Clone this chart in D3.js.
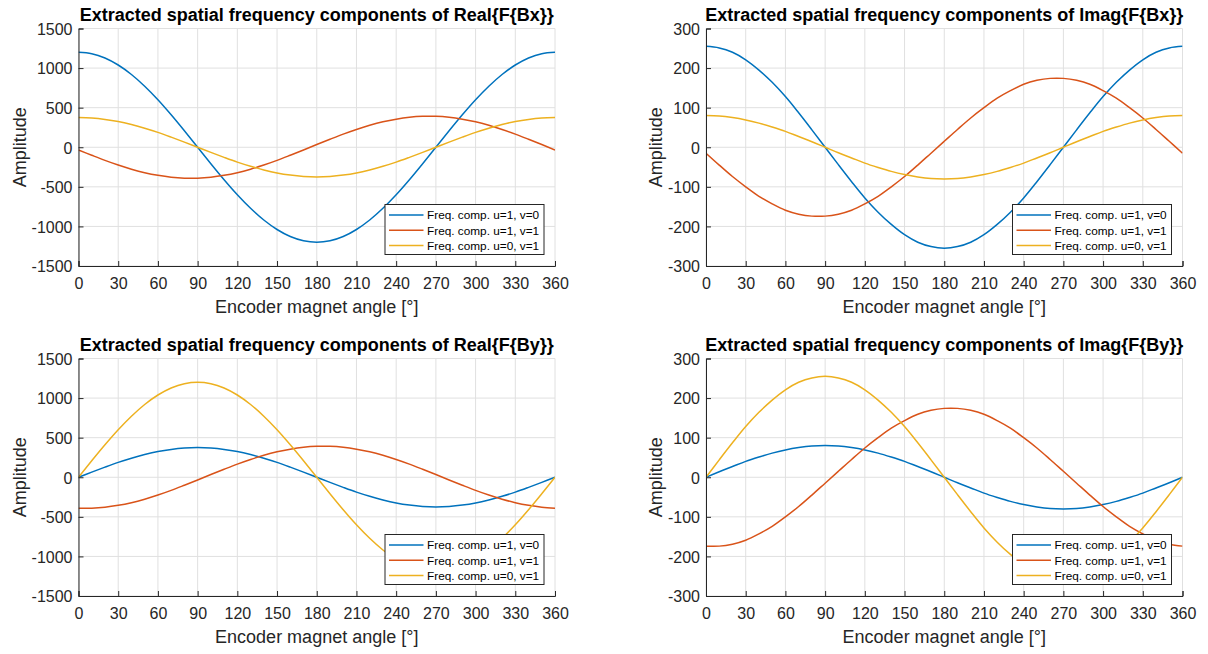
<!DOCTYPE html>
<html>
<head>
<meta charset="utf-8">
<script src="https://cdn.jsdelivr.net/npm/d3@7"></script>
<style>
  body { margin: 0; background: #ffffff; }
  svg { display: block; }
  text { font-family: "Liberation Sans", Arial, Helvetica, sans-serif; }
</style>
</head>
<body>
<svg id="chart" width="1208" height="654"></svg>
<script>
// Sample angles (degrees) of the encoder magnet
const angles = [0, 10, 20, 30, 40, 50, 60, 70, 80, 90, 100, 110, 120, 130, 140, 150, 160, 170, 180,
                190, 200, 210, 220, 230, 240, 250, 260, 270, 280, 290, 300, 310, 320, 330, 340, 350, 360];

// Axis ticks
const xTicks = [0, 30, 60, 90, 120, 150, 180, 210, 240, 270, 300, 330, 360];
const yTicksReal = [-1500, -1000, -500, 0, 500, 1000, 1500];
const yTicksImag = [-300, -200, -100, 0, 100, 200, 300];

// Legend entries and series colours
const seriesLabels = ["Freq. comp. u=1, v=0", "Freq. comp. u=1, v=1", "Freq. comp. u=0, v=1"];
const seriesColors = ["#0072BD", "#D95319", "#EDB120"];

const panelTitles = [
  "Extracted spatial frequency components of Real{F{Bx}}",
  "Extracted spatial frequency components of Imag{F{Bx}}",
  "Extracted spatial frequency components of Real{F{By}}",
  "Extracted spatial frequency components of Imag{F{By}}"
];

// Real{F{Bx}}
const realBx_u1v0 = [1200, 1182, 1128, 1039, 919, 771, 600, 410, 208, 0, -208, -410, -600, -771, -919, -1039, -1128, -1182, -1200,
                     -1182, -1128, -1039, -919, -771, -600, -410, -208, 0, 208, 410, 600, 771, 919, 1039, 1128, 1182, 1200];
const realBx_u1v1 = [-34, -101, -166, -225, -277, -321, -355, -379, -391, -391, -379, -355, -321, -277, -225, -166, -101, -34, 34,
                     101, 166, 225, 277, 321, 355, 379, 391, 391, 379, 355, 321, 277, 225, 166, 101, 34, -34];
const realBx_u0v1 = [375, 369, 352, 325, 287, 241, 188, 128, 65, 0, -65, -128, -188, -241, -287, -325, -352, -369, -375,
                     -369, -352, -325, -287, -241, -188, -128, -65, 0, 65, 128, 188, 241, 287, 325, 352, 369, 375];

// Imag{F{Bx}}
const imagBx_u1v0 = [255, 251, 240, 221, 195, 164, 128, 87, 44, 0, -44, -87, -128, -164, -195, -221, -240, -251, -255,
                     -251, -240, -221, -195, -164, -128, -87, -44, 0, 44, 87, 128, 164, 195, 221, 240, 251, 255];
const imagBx_u1v1 = [-15, -45, -74, -100, -124, -143, -159, -169, -174, -174, -169, -159, -143, -124, -100, -74, -45, -15, 15,
                     45, 74, 100, 124, 143, 159, 169, 174, 174, 169, 159, 143, 124, 100, 74, 45, 15, -15];
const imagBx_u0v1 = [80, 79, 75, 69, 61, 51, 40, 27, 14, 0, -14, -27, -40, -51, -61, -69, -75, -79, -80,
                     -79, -75, -69, -61, -51, -40, -27, -14, 0, 14, 27, 40, 51, 61, 69, 75, 79, 80];

// Real{F{By}}
const realBy_u1v0 = [0, 65, 128, 188, 241, 287, 325, 352, 369, 375, 369, 352, 325, 287, 241, 188, 128, 65, 0,
                     -65, -128, -188, -241, -287, -325, -352, -369, -375, -369, -352, -325, -287, -241, -188, -128, -65, 0];
const realBy_u1v1 = [-391, -391, -379, -355, -321, -277, -225, -166, -101, -34, 34, 101, 166, 225, 277, 321, 355, 379, 391,
                     391, 379, 355, 321, 277, 225, 166, 101, 34, -34, -101, -166, -225, -277, -321, -355, -379, -391];
const realBy_u0v1 = [0, 208, 410, 600, 771, 919, 1039, 1128, 1182, 1200, 1182, 1128, 1039, 919, 771, 600, 410, 208, 0,
                     -208, -410, -600, -771, -919, -1039, -1128, -1182, -1200, -1182, -1128, -1039, -919, -771, -600, -410, -208, 0];

// Imag{F{By}}
const imagBy_u1v0 = [0, 14, 27, 40, 51, 61, 69, 75, 79, 80, 79, 75, 69, 61, 51, 40, 27, 14, 0,
                     -14, -27, -40, -51, -61, -69, -75, -79, -80, -79, -75, -69, -61, -51, -40, -27, -14, 0];
const imagBy_u1v1 = [-174, -174, -169, -159, -143, -124, -100, -74, -45, -15, 15, 45, 74, 100, 124, 143, 159, 169, 174,
                     174, 169, 159, 143, 124, 100, 74, 45, 15, -15, -45, -74, -100, -124, -143, -159, -169, -174];
const imagBy_u0v1 = [0, 44, 87, 128, 164, 195, 221, 240, 251, 255, 251, 240, 221, 195, 164, 128, 87, 44, 0,
                     -44, -87, -128, -164, -195, -221, -240, -251, -255, -251, -240, -221, -195, -164, -128, -87, -44, 0];

const panels = [
  { title: panelTitles[0], yTicks: yTicksReal, series: [realBx_u1v0, realBx_u1v1, realBx_u0v1], col: 0, row: 0 },
  { title: panelTitles[1], yTicks: yTicksImag, series: [imagBx_u1v0, imagBx_u1v1, imagBx_u0v1], col: 1, row: 0 },
  { title: panelTitles[2], yTicks: yTicksReal, series: [realBy_u1v0, realBy_u1v1, realBy_u0v1], col: 0, row: 1 },
  { title: panelTitles[3], yTicks: yTicksImag, series: [imagBy_u1v0, imagBy_u1v1, imagBy_u0v1], col: 1, row: 1 }
];

// Layout of the 2x2 grid of axes
const colLeft = [78.5, 706];
const rowTop = [28.5, 358.5];
const plotW = 476.5;
const plotH = 237.5;

const axisColor = "#262626";
const gridColor = "#e0e0e0";
const tickFont = 16;
const labelFont = 18;
const titleFont = 18;
const legendFont = 11.8;

const svg = d3.select("#chart");

panels.forEach((p, i) => {
  const g = svg.append("g")
    .attr("transform", `translate(${colLeft[p.col]},${rowTop[p.row]})`);

  const x = d3.scaleLinear().domain([xTicks[0], xTicks[xTicks.length - 1]]).range([0, plotW]);
  const y = d3.scaleLinear().domain([p.yTicks[0], p.yTicks[p.yTicks.length - 1]]).range([plotH, 0]);

  // grid
  const grid = g.append("g").attr("stroke", gridColor).attr("stroke-width", 1);
  grid.selectAll("line.gx").data(xTicks).join("line")
    .attr("x1", d => x(d)).attr("x2", d => x(d))
    .attr("y1", 0).attr("y2", plotH);
  grid.selectAll("line.gy").data(p.yTicks).join("line")
    .attr("x1", 0).attr("x2", plotW)
    .attr("y1", d => y(d)).attr("y2", d => y(d));

  // clip region for curves
  const clipId = `clip-${i}`;
  g.append("clipPath").attr("id", clipId)
    .append("rect").attr("x", 0).attr("y", 0).attr("width", plotW).attr("height", plotH);

  const line = d3.line()
    .x((d, k) => x(angles[k]))
    .y(d => y(d))
    .curve(d3.curveCatmullRom.alpha(0.5));

  g.append("g").attr("clip-path", `url(#${clipId})`)
    .selectAll("path").data(p.series).join("path")
    .attr("d", d => line(d))
    .attr("fill", "none")
    .attr("stroke", (d, k) => seriesColors[k])
    .attr("stroke-width", 1.5);

  // axes (ticks point inward)
  const plainNumber = d => String(d);
  const xAxis = d3.axisBottom(x).tickValues(xTicks).tickSize(-5).tickPadding(12).tickFormat(plainNumber);
  const yAxis = d3.axisLeft(y).tickValues(p.yTicks).tickSize(-5).tickPadding(6).tickFormat(plainNumber);

  const gx = g.append("g").attr("transform", `translate(0,${plotH})`).call(xAxis);
  const gy = g.append("g").call(yAxis);
  [gx, gy].forEach(a => {
    a.attr("font-size", null).attr("font-family", null);
    a.select(".domain").attr("stroke", axisColor).attr("stroke-width", 1);
    a.selectAll(".tick line").attr("stroke", axisColor).attr("stroke-width", 1);
    a.selectAll(".tick text").attr("fill", axisColor)
      .style("font-size", tickFont + "px");
  });
  gx.selectAll(".tick text").attr("dy", "0.71em");
  gy.selectAll(".tick text").attr("dy", "0.36em");

  // title
  g.append("text")
    .attr("x", plotW / 2).attr("y", -8)
    .attr("text-anchor", "middle")
    .style("font-size", titleFont + "px")
    .style("font-weight", "bold")
    .attr("fill", "#000000")
    .text(p.title);

  // x label
  g.append("text")
    .attr("x", plotW / 2).attr("y", plotH + 46.5)
    .attr("text-anchor", "middle")
    .style("font-size", labelFont + "px")
    .attr("fill", axisColor)
    .text("Encoder magnet angle [°]");

  // y label, placed left of the widest tick label
  const tickBox = gy.node().getBBox();
  const yLabelX = tickBox.x - 5.5;
  g.append("text")
    .attr("transform", `translate(${yLabelX},${plotH / 2}) rotate(-90)`)
    .attr("text-anchor", "middle")
    .style("font-size", labelFont + "px")
    .attr("fill", axisColor)
    .text("Amplitude");

  // legend (south-east corner, opaque)
  const legW = 159, legH = 50;
  const leg = g.append("g")
    .attr("transform", `translate(${plotW - 11 - legW},${plotH - 11.5 - legH})`);
  leg.append("rect")
    .attr("width", legW).attr("height", legH)
    .attr("fill", "#ffffff")
    .attr("stroke", axisColor).attr("stroke-width", 1);
  seriesLabels.forEach((lab, k) => {
    const cy = 10.5 + k * 15.3;
    leg.append("line")
      .attr("x1", 4).attr("x2", 38.5)
      .attr("y1", cy).attr("y2", cy)
      .attr("stroke", seriesColors[k]).attr("stroke-width", 1.5);
    leg.append("text")
      .attr("x", 42).attr("y", cy).attr("dy", "0.36em")
      .style("font-size", legendFont + "px")
      .attr("fill", "#000000")
      .text(lab);
  });
});
</script>
</body>
</html>
